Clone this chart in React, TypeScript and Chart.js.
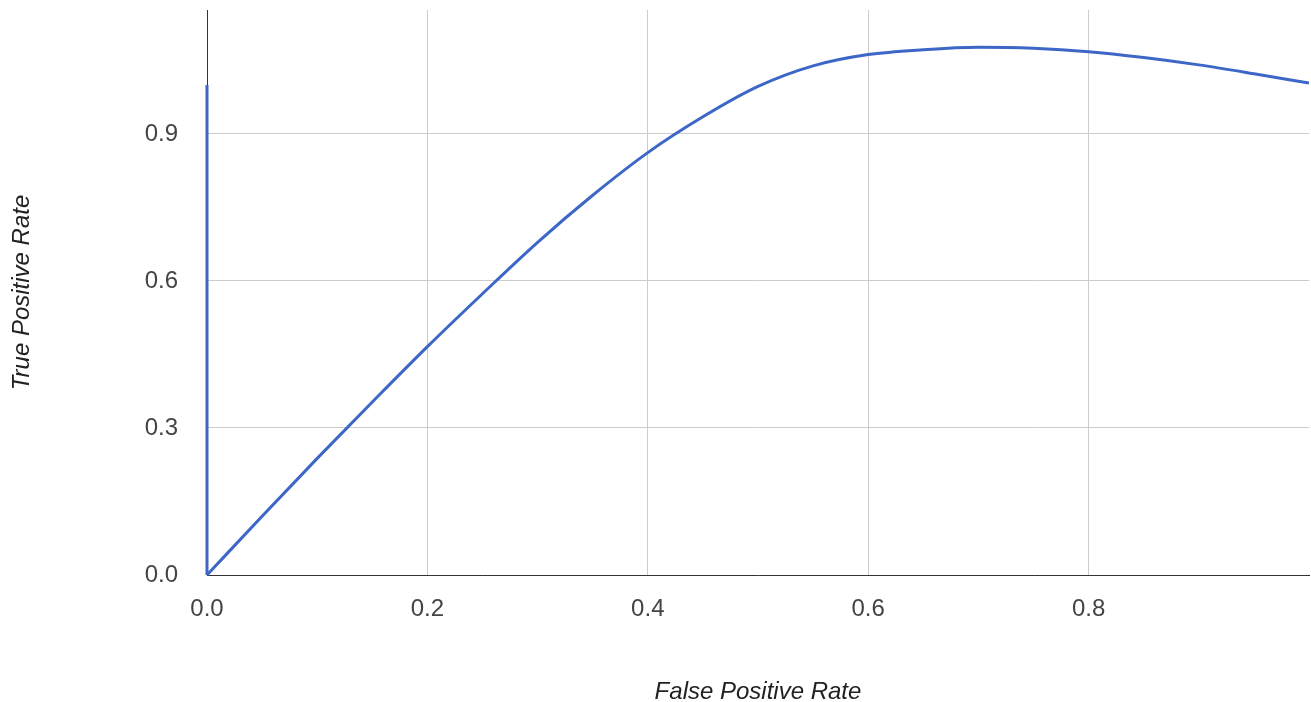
import React, { useEffect, useRef } from "react";
import { Chart, registerables } from "chart.js";

Chart.register(...registerables);

const fpr = [0, 0.05, 0.1, 0.15, 0.2, 0.25, 0.3, 0.35, 0.4, 0.45, 0.5, 0.55, 0.6, 0.65, 0.7, 0.75, 0.8, 0.85, 0.9, 0.95, 1.0];
const tpr = [0, 0.12, 0.238, 0.353, 0.466, 0.574, 0.679, 0.775, 0.862, 0.935, 0.997, 1.039, 1.062, 1.072, 1.077, 1.075, 1.068, 1.056, 1.041, 1.023, 1.004];
const segX = [0, 0];
const segY = [1.0, 0];
const xTicks = [0, 0.2, 0.4, 0.6, 0.8];
const yTicks = [0, 0.3, 0.6, 0.9];
const xTitle = "False Positive Rate";
const yTitle = "True Positive Rate";

export default function App() {
  const ref = useRef<HTMLCanvasElement | null>(null);
  useEffect(() => {
    if (!ref.current) return;
    const font = "'Liberation Sans', Arial, Helvetica, sans-serif";
    const blue = "#3D67C6";
    const chart = new Chart(ref.current, {
      type: "line",
      data: {
        datasets: [
          {
            data: segX.map((x, i) => ({ x, y: segY[i] })),
            borderColor: blue,
            borderWidth: 3,
            pointRadius: 0,
            tension: 0,
            clip: false,
          },
          {
            data: fpr.map((x, i) => ({ x, y: tpr[i] })),
            borderColor: blue,
            borderWidth: 3,
            pointRadius: 0,
            cubicInterpolationMode: "monotone",
            clip: { left: 4, top: 0, right: 0, bottom: 4 },
          },
        ],
      },
      options: {
        responsive: false,
        animation: false,
        layout: { padding: { top: 10, right: 2, bottom: 0, left: 0 } },
        plugins: { legend: { display: false }, tooltip: { enabled: false } },
        scales: {
          x: {
            type: "linear",
            min: 0,
            max: 1.0,
            afterBuildTicks: (s: any) => {
              s.ticks = xTicks.map((v) => ({ value: v }));
            },
            afterFit: (s: any) => {
              s.height = 127;
              s.paddingLeft = 0;
              s.paddingRight = 0;
            },
            grid: { color: "#cccccc", lineWidth: 1, drawTicks: false },
            border: { color: "#333333", width: 1 },
            ticks: {
              padding: 20,
              color: "#444444",
              font: { family: font, size: 24 },
              callback: (v: any) => Number(v).toFixed(1),
            },
            title: {
              display: true,
              text: xTitle,
              color: "#222222",
              font: { family: font, size: 24, style: "italic", lineHeight: 1 },
              padding: { top: 0, bottom: -2 },
            },
          },
          y: {
            type: "linear",
            min: 0,
            max: 1.153,
            afterBuildTicks: (s: any) => {
              s.ticks = yTicks.map((v) => ({ value: v }));
            },
            afterFit: (s: any) => {
              s.width = 207;
              s.paddingTop = 0;
              s.paddingBottom = 0;
            },
            grid: { color: "#cccccc", lineWidth: 1, drawTicks: false },
            border: { color: "#333333", width: 1 },
            ticks: {
              padding: 29,
              color: "#444444",
              font: { family: font, size: 24 },
              callback: (v: any) => Number(v).toFixed(1),
            },
            title: {
              display: true,
              text: yTitle,
              color: "#222222",
              font: { family: font, size: 24, style: "italic" },
              padding: { top: 8, bottom: 0 },
            },
          },
        },
      },
    } as any);
    return () => chart.destroy();
  }, []);
  return (
    <div style={{ position: "fixed", left: 0, top: 0, width: 1311, height: 702, background: "#fff" }}>
      <canvas ref={ref} width={1311} height={702} style={{ display: "block" }} />
    </div>
  );
}
